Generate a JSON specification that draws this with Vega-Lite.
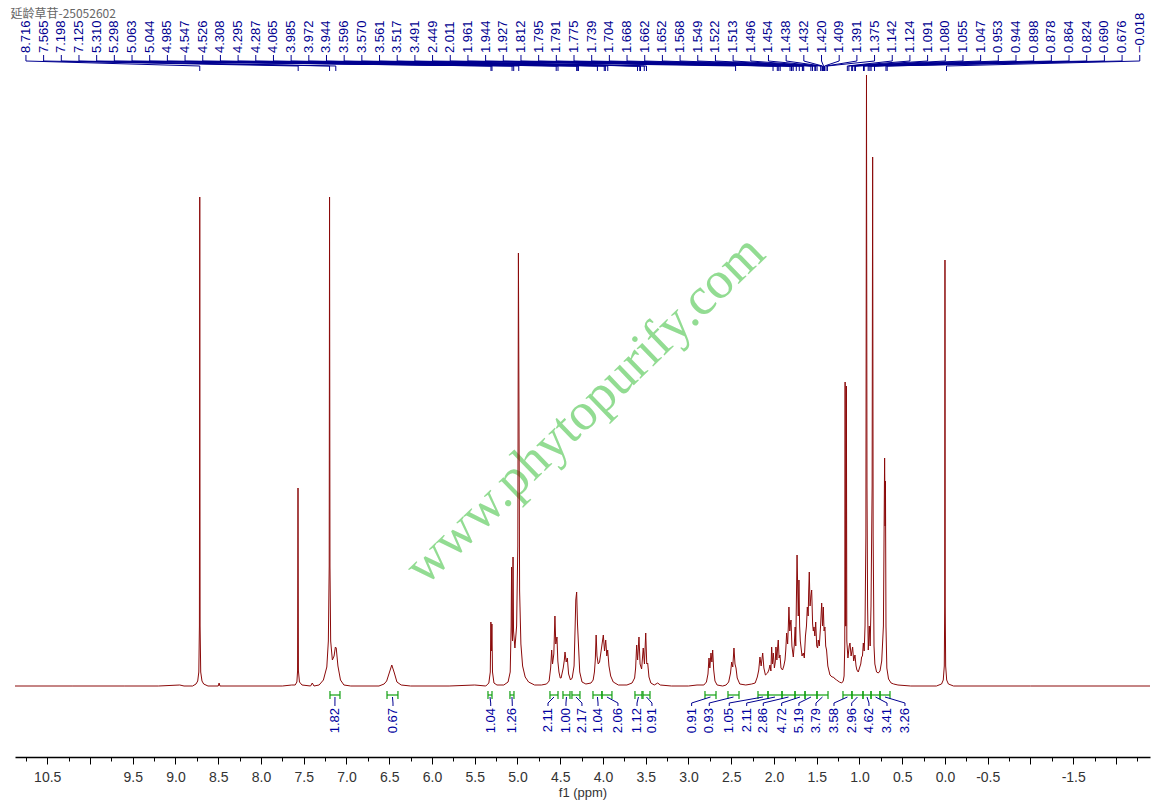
{
  "$schema": "https://vega.github.io/schema/vega-lite/v6.json",
  "width": 1135,
  "height": 757,
  "autosize": {"type": "none"},
  "padding": {"left": 15, "top": 0, "right": 7, "bottom": 49},
  "background": "white",
  "config": {"view": {"stroke": null}},
  "resolve": {"axis": {"x": "independent"}},
  "datasets": {
    "spec": [
      {"x":10.877,"y":0},{"x":10.2,"y":0},{"x":9.6,"y":0},{"x":9.2,"y":0},{"x":8.95,"y":1},{"x":8.9,"y":0},
      {"x":8.8,"y":0},{"x":8.76,"y":2},{"x":8.74,"y":5},{"x":8.727,"y":14},{"x":8.72,"y":60},{"x":8.716,"y":489},{"x":8.712,"y":60},{"x":8.705,"y":14},{"x":8.69,"y":5},{"x":8.67,"y":2},{"x":8.62,"y":0},
      {"x":8.5,"y":0},{"x":8.49,"y":3},{"x":8.48,"y":0},{"x":7.75,"y":0},{"x":7.64,"y":1},
      {"x":7.6,"y":1},{"x":7.58,"y":4},{"x":7.572,"y":15},{"x":7.567,"y":198},{"x":7.562,"y":15},{"x":7.55,"y":4},{"x":7.52,"y":1},
      {"x":7.42,"y":0},{"x":7.4,"y":3},{"x":7.38,"y":0},
      {"x":7.32,"y":1},{"x":7.27,"y":6},{"x":7.23,"y":19},{"x":7.212,"y":45},{"x":7.202,"y":120},{"x":7.198,"y":489},{"x":7.193,"y":120},{"x":7.185,"y":45},{"x":7.165,"y":26},{"x":7.145,"y":30},{"x":7.13,"y":39},{"x":7.12,"y":38},{"x":7.1,"y":20},{"x":7.07,"y":6},{"x":7.03,"y":1},{"x":6.95,"y":0},
      {"x":6.62,"y":0},{"x":6.56,"y":2},{"x":6.53,"y":5},{"x":6.5,"y":13},{"x":6.47,"y":21},{"x":6.44,"y":13},{"x":6.41,"y":4},{"x":6.36,"y":1},{"x":6.25,"y":0},
      {"x":5.8,"y":0},{"x":5.5,"y":1},
      {"x":5.37,"y":0},{"x":5.335,"y":3},{"x":5.318,"y":14},{"x":5.311,"y":64},{"x":5.305,"y":35},{"x":5.299,"y":62},{"x":5.292,"y":14},{"x":5.275,"y":3},{"x":5.24,"y":1},
      {"x":5.16,"y":1},{"x":5.11,"y":4},{"x":5.085,"y":14},{"x":5.074,"y":60},{"x":5.069,"y":119},{"x":5.064,"y":55},{"x":5.058,"y":45},{"x":5.052,"y":129},{"x":5.046,"y":55},{"x":5.03,"y":38},{"x":5.01,"y":60},{"x":4.996,"y":140},{"x":4.989,"y":433},{"x":4.983,"y":290},{"x":4.975,"y":95},{"x":4.96,"y":42},{"x":4.94,"y":20},{"x":4.91,"y":9},{"x":4.87,"y":4},{"x":4.8,"y":1},{"x":4.72,"y":1},
      {"x":4.66,"y":2},{"x":4.63,"y":5},{"x":4.612,"y":18},{"x":4.6,"y":36},{"x":4.59,"y":22},{"x":4.575,"y":32},{"x":4.562,"y":70},{"x":4.552,"y":42},{"x":4.538,"y":49},{"x":4.528,"y":25},{"x":4.515,"y":14},{"x":4.5,"y":8},{"x":4.49,"y":8},
      {"x":4.465,"y":18},{"x":4.452,"y":26},{"x":4.444,"y":34},{"x":4.43,"y":24},{"x":4.417,"y":28},{"x":4.402,"y":12},{"x":4.38,"y":6},
      {"x":4.36,"y":8},{"x":4.338,"y":20},{"x":4.326,"y":58},{"x":4.318,"y":86},{"x":4.308,"y":94},{"x":4.298,"y":62},{"x":4.287,"y":42},{"x":4.272,"y":14},{"x":4.245,"y":4},{"x":4.2,"y":2},{"x":4.14,"y":3},
      {"x":4.115,"y":6},{"x":4.1,"y":14},{"x":4.09,"y":26},{"x":4.08,"y":51},{"x":4.07,"y":30},{"x":4.056,"y":22},{"x":4.04,"y":24},{"x":4.022,"y":35},
      {"x":3.996,"y":51},{"x":3.982,"y":35},{"x":3.968,"y":46},{"x":3.955,"y":30},{"x":3.945,"y":36},{"x":3.93,"y":20},{"x":3.91,"y":10},{"x":3.88,"y":4},{"x":3.82,"y":1},{"x":3.72,"y":1},
      {"x":3.66,"y":3},{"x":3.63,"y":8},{"x":3.618,"y":18},{"x":3.606,"y":41},{"x":3.595,"y":26},{"x":3.579,"y":49},{"x":3.566,"y":22},{"x":3.548,"y":17},{"x":3.529,"y":38},{"x":3.515,"y":22},{"x":3.5,"y":53},{"x":3.488,"y":22},{"x":3.477,"y":23},{"x":3.462,"y":9},{"x":3.44,"y":3},{"x":3.4,"y":1},{"x":3.36,"y":3},{"x":3.33,"y":1},{"x":3.2,"y":0},{"x":3.0,"y":0},{"x":2.9,"y":1},
      {"x":2.82,"y":1},{"x":2.79,"y":4},{"x":2.772,"y":12},{"x":2.76,"y":28},{"x":2.75,"y":18},{"x":2.737,"y":33},{"x":2.726,"y":24},{"x":2.717,"y":36},{"x":2.705,"y":16},{"x":2.69,"y":5},{"x":2.665,"y":1},{"x":2.6,"y":0},
      {"x":2.56,"y":1},{"x":2.53,"y":4},{"x":2.508,"y":13},{"x":2.495,"y":24},{"x":2.482,"y":19},{"x":2.468,"y":38},{"x":2.456,"y":22},{"x":2.444,"y":18},{"x":2.43,"y":8},{"x":2.4,"y":2},{"x":2.33,"y":1},{"x":2.26,"y":2},
      {"x":2.22,"y":3},{"x":2.195,"y":9},{"x":2.178,"y":16},{"x":2.164,"y":29},{"x":2.15,"y":20},{"x":2.132,"y":33},{"x":2.118,"y":18},{"x":2.1,"y":11},{"x":2.075,"y":13},
      {"x":2.06,"y":16},{"x":2.047,"y":21},{"x":2.036,"y":15},{"x":2.027,"y":39},{"x":2.018,"y":22},{"x":2.008,"y":33},{"x":1.995,"y":18},{"x":1.985,"y":24},{"x":1.977,"y":39},{"x":1.966,"y":26},{"x":1.956,"y":40},{"x":1.95,"y":46},{"x":1.94,"y":28},{"x":1.93,"y":31},{"x":1.918,"y":18},{"x":1.9,"y":16},
      {"x":1.885,"y":20},{"x":1.871,"y":26},{"x":1.862,"y":36},{"x":1.852,"y":53},{"x":1.84,"y":42},{"x":1.832,"y":60},{"x":1.825,"y":79},{"x":1.815,"y":55},{"x":1.808,"y":62},{"x":1.801,"y":66},{"x":1.79,"y":40},{"x":1.774,"y":29},{"x":1.762,"y":42},
      {"x":1.752,"y":59},{"x":1.745,"y":40},{"x":1.737,"y":90},{"x":1.73,"y":131},{"x":1.723,"y":100},{"x":1.716,"y":70},{"x":1.708,"y":106},{"x":1.7,"y":60},{"x":1.692,"y":45},{"x":1.684,"y":39},{"x":1.672,"y":30},
      {"x":1.657,"y":33},{"x":1.645,"y":28},{"x":1.632,"y":50},{"x":1.62,"y":60},{"x":1.61,"y":79},{"x":1.6,"y":70},{"x":1.594,"y":95},{"x":1.587,"y":114},{"x":1.578,"y":80},{"x":1.568,"y":90},{"x":1.559,"y":96},{"x":1.548,"y":62},{"x":1.54,"y":55},{"x":1.532,"y":59},{"x":1.522,"y":50},{"x":1.512,"y":64},{"x":1.5,"y":40},{"x":1.49,"y":38},{"x":1.482,"y":46},{"x":1.47,"y":40},{"x":1.455,"y":60},{"x":1.442,"y":83},{"x":1.432,"y":60},{"x":1.423,"y":79},{"x":1.414,"y":55},{"x":1.404,"y":59},{"x":1.395,"y":40},{"x":1.385,"y":36},{"x":1.37,"y":20},{"x":1.345,"y":11},{"x":1.32,"y":9},{"x":1.306,"y":9},{"x":1.285,"y":7},{"x":1.267,"y":6},{"x":1.235,"y":4},{"x":1.208,"y":3},{"x":1.19,"y":5},
      {"x":1.18,"y":10},{"x":1.172,"y":40},{"x":1.168,"y":304},{"x":1.163,"y":60},{"x":1.158,"y":60},{"x":1.153,"y":300},{"x":1.148,"y":45},{"x":1.135,"y":28},{"x":1.12,"y":40},{"x":1.111,"y":43},{"x":1.098,"y":30},{"x":1.08,"y":39},{"x":1.068,"y":25},{"x":1.053,"y":31},{"x":1.04,"y":20},{"x":1.03,"y":16},{"x":1.014,"y":14},{"x":1.0,"y":18},{"x":0.985,"y":22},{"x":0.975,"y":29},{"x":0.965,"y":30},{"x":0.955,"y":43},{"x":0.945,"y":35},
      {"x":0.935,"y":60},{"x":0.925,"y":150},{"x":0.918,"y":611},{"x":0.912,"y":200},{"x":0.905,"y":80},{"x":0.897,"y":36},{"x":0.885,"y":60},{"x":0.875,"y":40},{"x":0.865,"y":80},{"x":0.852,"y":200},{"x":0.846,"y":529},{"x":0.84,"y":150},{"x":0.83,"y":40},{"x":0.82,"y":22},{"x":0.8,"y":14},{"x":0.78,"y":13},{"x":0.76,"y":15},{"x":0.74,"y":25},
      {"x":0.72,"y":60},{"x":0.706,"y":228},{"x":0.700,"y":160},{"x":0.696,"y":205},{"x":0.69,"y":60},{"x":0.68,"y":18},{"x":0.66,"y":7},{"x":0.63,"y":3},{"x":0.6,"y":2},{"x":0.55,"y":1},{"x":0.4,"y":0},
      {"x":0.1,"y":0},{"x":0.04,"y":2},{"x":0.02,"y":6},{"x":0.008,"y":20},{"x":0.003,"y":80},{"x":0.0,"y":426},{"x":-0.003,"y":80},{"x":-0.008,"y":20},{"x":-0.02,"y":6},{"x":-0.04,"y":2},{"x":-0.1,"y":0},{"x":-1.0,"y":0},{"x":-2.398,"y":0}
    ],
    "peaks": [
      {"shift":8.716},{"shift":7.565},{"shift":7.198},{"shift":7.125},{"shift":5.310},{"shift":5.298},{"shift":5.063},{"shift":5.044},{"shift":4.985},{"shift":4.547},{"shift":4.526},{"shift":4.308},{"shift":4.295},{"shift":4.287},{"shift":4.065},{"shift":3.985},{"shift":3.972},{"shift":3.944},{"shift":3.596},{"shift":3.570},{"shift":3.561},{"shift":3.517},{"shift":3.491},{"shift":2.449},{"shift":2.011},{"shift":1.961},{"shift":1.944},{"shift":1.927},{"shift":1.812},{"shift":1.795},{"shift":1.791},{"shift":1.775},{"shift":1.739},{"shift":1.704},{"shift":1.668},{"shift":1.662},{"shift":1.652},{"shift":1.568},{"shift":1.549},{"shift":1.522},{"shift":1.513},{"shift":1.496},{"shift":1.454},{"shift":1.438},{"shift":1.432},{"shift":1.420},{"shift":1.409},{"shift":1.391},{"shift":1.375},{"shift":1.142},{"shift":1.124},{"shift":1.091},{"shift":1.080},{"shift":1.055},{"shift":1.047},{"shift":0.953},{"shift":0.944},{"shift":0.898},{"shift":0.878},{"shift":0.864},{"shift":0.824},{"shift":0.690},{"shift":0.676},{"shift":-0.018}
    ],
    "ints": [
      {"from":7.193,"to":7.076,"lab":7.135,"value":1.82},
      {"from":6.526,"to":6.398,"lab":6.456,"value":0.67},
      {"from":5.345,"to":5.298,"lab":5.313,"value":1.04},
      {"from":5.088,"to":5.041,"lab":5.061,"value":1.26},
      {"from":4.620,"to":4.526,"lab":4.643,"value":2.11},
      {"from":4.468,"to":4.386,"lab":4.433,"value":1.00},
      {"from":4.363,"to":4.269,"lab":4.246,"value":2.17},
      {"from":4.117,"to":4.012,"lab":4.058,"value":1.04},
      {"from":4.012,"to":3.895,"lab":3.825,"value":2.06},
      {"from":3.626,"to":3.544,"lab":3.602,"value":1.12},
      {"from":3.532,"to":3.450,"lab":3.427,"value":0.91},
      {"from":2.807,"to":2.678,"lab":2.963,"value":0.91},
      {"from":2.538,"to":2.409,"lab":2.757,"value":0.93},
      {"from":2.187,"to":2.070,"lab":2.523,"value":1.05},
      {"from":2.070,"to":1.906,"lab":2.319,"value":2.11},
      {"from":1.906,"to":1.754,"lab":2.125,"value":2.86},
      {"from":1.754,"to":1.637,"lab":1.910,"value":4.72},
      {"from":1.637,"to":1.497,"lab":1.708,"value":5.19},
      {"from":1.497,"to":1.368,"lab":1.509,"value":3.79},
      {"from":1.193,"to":1.088,"lab":1.298,"value":3.58},
      {"from":1.088,"to":0.959,"lab":1.091,"value":2.96},
      {"from":0.959,"to":0.865,"lab":0.889,"value":4.62},
      {"from":0.865,"to":0.760,"lab":0.678,"value":3.41},
      {"from":0.760,"to":0.643,"lab":0.468,"value":3.26}
    ]
  },
  "layer": [
    {
      "data": {"values": [{"t": "www.phytopurify.com"}]},
      "mark": {"type": "text", "font": "Liberation Serif", "fontSize": 53, "color": "#80d680", "opacity": 0.85, "angle": 316, "align": "center", "baseline": "middle"},
      "encoding": {
        "x": {"datum": 4.21, "type": "quantitative", "scale": {"domain": [-2.398, 10.877], "reverse": true, "nice": false, "zero": false},
          "axis": {"orient": "bottom", "values": [10.75,10.25,9.75,9.25,8.75,8.25,7.75,7.25,6.75,6.25,5.75,5.25,4.75,4.25,3.75,3.25,2.75,2.25,1.75,1.25,0.75,0.25,-0.25,-0.75,-1.25,-1.75,-2.25], "labels": false, "domain": false, "grid": false, "tickSize": 4, "tickColor": "#000000", "tickWidth": 1, "title": null}},
        "y": {"datum": 276, "type": "quantitative", "scale": {"domain": [-71, 686], "nice": false, "zero": false}, "axis": null},
        "text": {"field": "t"}
      }
    },
    {
      "data": {"values": [{"t": "延龄草苷-25052602"}]},
      "mark": {"type": "text", "font": "Noto Sans CJK SC", "fontSize": 12, "color": "#666666", "align": "left", "baseline": "middle"},
      "encoding": {
        "x": {"datum": 10.93, "type": "quantitative", "axis": null},
        "y": {"datum": 672, "type": "quantitative", "axis": null},
        "text": {"field": "t"}
      }
    },
    {
      "data": {"name": "spec"},
      "mark": {"type": "line", "color": "#8b0a0a", "strokeWidth": 1, "interpolate": "linear"},
      "encoding": {
        "x": {
          "field": "x", "type": "quantitative", "title": "f1 (ppm)",
          "axis": {
            "orient": "bottom",
            "values": [10.5,10,9.5,9,8.5,8,7.5,7,6.5,6,5.5,5,4.5,4,3.5,3,2.5,2,1.5,1,0.5,0,-0.5,-1,-1.5,-2],
            "labelExpr": "(datum.value == 10 || datum.value == -1 || datum.value == -2) ? '' : (datum.value < 0 ? '-' + format(-datum.value, '.1f') : format(datum.value, '.1f'))",
            "labelOverlap": false,
            "labelBound": false,
            "labelFlush": false,
            "grid": false,
            "domainColor": "#000000",
            "domainWidth": 1.5,
            "tickColor": "#000000",
            "tickWidth": 1,
            "tickSize": 7,
            "labelFont": "Liberation Sans",
            "labelFontSize": 14,
            "labelColor": "#333333",
            "labelPadding": 6,
            "titleFont": "Liberation Sans",
            "titleFontSize": 13,
            "titleFontWeight": "normal",
            "titleColor": "#333333",
            "titlePadding": 2
          }
        },
        "y": {"field": "y", "type": "quantitative", "axis": null}
      }
    },
    {
      "data": {"name": "peaks"},
      "transform": [
        {"window": [{"op": "row_number", "as": "i"}], "sort": [{"field": "shift", "order": "descending"}]},
        {"calculate": "10.749 - (datum.i - 1) * 0.20678", "as": "lx"}
      ],
      "layer": [
        {
          "mark": {"type": "text", "angle": 270, "align": "left", "baseline": "middle", "font": "Liberation Sans", "fontSize": 13, "color": "#000090"},
          "encoding": {
            "x": {"field": "lx", "type": "quantitative", "axis": null},
            "y": {"datum": 633, "type": "quantitative", "axis": null},
            "text": {"field": "shift", "type": "quantitative", "format": ".3f"}
          }
        },
        {
          "mark": {"type": "rule", "color": "#000090", "strokeWidth": 1},
          "encoding": {
            "x": {"field": "lx", "type": "quantitative", "axis": null},
            "y": {"datum": 631, "type": "quantitative", "axis": null},
            "y2": {"datum": 625}
          }
        },
        {
          "mark": {"type": "rule", "color": "#000090", "strokeWidth": 1},
          "encoding": {
            "x": {"field": "lx", "type": "quantitative", "axis": null},
            "x2": {"field": "shift"},
            "y": {"datum": 625, "type": "quantitative", "axis": null},
            "y2": {"datum": 620}
          }
        },
        {
          "mark": {"type": "rule", "color": "#000090", "strokeWidth": 1},
          "encoding": {
            "x": {"field": "shift", "type": "quantitative", "axis": null},
            "y": {"datum": 620, "type": "quantitative", "axis": null},
            "y2": {"datum": 615}
          }
        }
      ]
    },
    {
      "data": {"name": "ints"},
      "transform": [{"calculate": "(datum.from + datum.to) / 2", "as": "mid"}],
      "layer": [
        {
          "mark": {"type": "rule", "color": "#11a011", "strokeWidth": 1.2},
          "encoding": {
            "x": {"field": "from", "type": "quantitative", "axis": null},
            "x2": {"field": "to"},
            "y": {"datum": -9, "type": "quantitative", "axis": null}
          }
        },
        {
          "mark": {"type": "rule", "color": "#11a011", "strokeWidth": 1.2},
          "encoding": {
            "x": {"field": "from", "type": "quantitative", "axis": null},
            "y": {"datum": -5, "type": "quantitative", "axis": null},
            "y2": {"datum": -13}
          }
        },
        {
          "mark": {"type": "rule", "color": "#11a011", "strokeWidth": 1.2},
          "encoding": {
            "x": {"field": "to", "type": "quantitative", "axis": null},
            "y": {"datum": -5, "type": "quantitative", "axis": null},
            "y2": {"datum": -13}
          }
        },
        {
          "mark": {"type": "rule", "color": "#000090", "strokeWidth": 1},
          "encoding": {
            "x": {"field": "mid", "type": "quantitative", "axis": null},
            "x2": {"field": "lab"},
            "y": {"datum": -11, "type": "quantitative", "axis": null},
            "y2": {"datum": -17}
          }
        },
        {
          "mark": {"type": "rule", "color": "#000090", "strokeWidth": 1},
          "encoding": {
            "x": {"field": "lab", "type": "quantitative", "axis": null},
            "y": {"datum": -17, "type": "quantitative", "axis": null},
            "y2": {"datum": -20}
          }
        },
        {
          "mark": {"type": "text", "angle": 270, "align": "right", "baseline": "middle", "font": "Liberation Sans", "fontSize": 13, "color": "#0000a0"},
          "encoding": {
            "x": {"field": "lab", "type": "quantitative", "axis": null},
            "y": {"datum": -22, "type": "quantitative", "axis": null},
            "text": {"field": "value", "type": "quantitative", "format": ".2f"}
          }
        }
      ]
    }
  ]
}
